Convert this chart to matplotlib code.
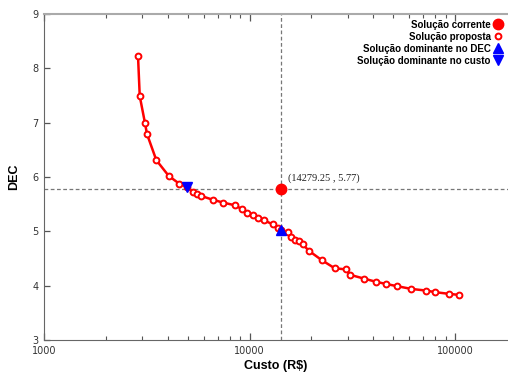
import numpy as np
import matplotlib.pyplot as plt
from matplotlib.ticker import LogLocator, NullFormatter, FixedLocator

# Proposed solutions (Pareto front): cost (R$) and DEC
custo = [2867, 2923, 3101, 3171, 3520, 4045, 4540, 4981, 5311, 5536,
         5828, 6644, 7430, 8472, 9193, 9757, 10400, 10937, 11766, 12988,
         13763, 14279, 15340, 15920, 16710, 17470, 18150, 19480, 22460, 25980,
         29390, 30840, 36070, 41400, 46320, 52400, 61280, 72270, 80220, 93180,
         104600]
dec = [8.23, 7.49, 6.99, 6.79, 6.31, 6.02, 5.88, 5.81, 5.72, 5.69,
       5.65, 5.58, 5.53, 5.48, 5.41, 5.34, 5.30, 5.24, 5.20, 5.13,
       5.07, 5.02, 4.98, 4.90, 4.84, 4.82, 4.76, 4.64, 4.47, 4.32,
       4.30, 4.20, 4.13, 4.07, 4.03, 3.99, 3.94, 3.91, 3.88, 3.85,
       3.83]

# Current solution
corrente_custo = 14279.25
corrente_dec = 5.77

# Dominant solutions
dom_dec = (14279, 5.02)
dom_custo = (4981, 5.81)

labels = ["Solução corrente", "Solução proposta",
          "Solução dominante no DEC", "Solução dominante no custo"]

fig = plt.figure(figsize=(5.08, 3.74), dpi=100)
ax = fig.add_axes([0.0866, 0.0909, 0.9134, 0.8717])

# crosshair through the current solution
ax.axvline(corrente_custo, color='#777777', ls=(0, (3, 2)), lw=0.9, zorder=1)
ax.axhline(corrente_dec, color='#777777', ls=(0, (3, 2)), lw=0.9, zorder=1)

h1, = ax.plot([corrente_custo], [corrente_dec], 'o', color='red', ms=7.5,
              ls='none', zorder=5)
h2, = ax.plot(custo, dec, '-o', color='red', lw=1.8, ms=4.2, mfc='white',
              mec='red', mew=1.4, zorder=3)
h3, = ax.plot([dom_dec[0]], [dom_dec[1]], '^', color='blue', ms=6.5,
              ls='none', zorder=4)
h4, = ax.plot([dom_custo[0]], [dom_custo[1]], 'v', color='blue', ms=6.5,
              ls='none', zorder=4)
h2_leg, = ax.plot([], [], 'o', color='red', ms=4.2, mfc='white', mew=1.4,
                  ls='none')

ax.annotate(f"({corrente_custo:.2f} , {corrente_dec:.2f})",
            (corrente_custo, corrente_dec), xytext=(5, 5),
            textcoords='offset points', family='Liberation Serif',
            fontsize=7.5, color='#222222', va='bottom')

ax.set_xscale('log')
ax.set_xlim(1000, 181000)
ax.set_ylim(3, 9)

ax.xaxis.set_major_locator(FixedLocator([1000, 10000, 100000]))
ax.set_xticklabels(['1000', '10000', '100000'])
ax.xaxis.set_minor_locator(LogLocator(base=10, subs=np.arange(2, 10)))
ax.xaxis.set_minor_formatter(NullFormatter())
ax.set_yticks([3, 4, 5, 6, 7, 8, 9])

ax.tick_params(axis='x', which='major', direction='in', length=5, width=0.9,
               top=True, colors='#555555', labelcolor='#333333', labelsize=7,
               pad=4)
ax.tick_params(axis='x', which='minor', direction='in', length=3, width=0.8,
               top=True, colors='#555555')
ax.tick_params(axis='y', which='major', direction='in', length=4, width=0.9,
               colors='#555555', labelcolor='#333333', labelsize=7, pad=4)

ax.spines['right'].set_visible(False)
ax.spines['top'].set_color('#aaaaaa')
ax.spines['top'].set_linewidth(1.5)
ax.spines['left'].set_color('#666666')
ax.spines['bottom'].set_color('#666666')

ax.set_xlabel('Custo (R$)', family='Liberation Sans', fontsize=9,
              fontweight='bold', labelpad=3)
ax.set_ylabel('DEC', family='Liberation Sans', fontsize=9,
              fontweight='bold', labelpad=9)

leg = ax.legend([h1, h2_leg, h3, h4], labels, loc='upper right',
                markerfirst=False, frameon=False, handlelength=0.8,
                handletextpad=0.4, labelspacing=0.2, borderaxespad=0.2,
                prop={'family': 'Liberation Sans', 'weight': 'bold',
                      'size': 7})

fig.savefig('out.png', dpi=100)
